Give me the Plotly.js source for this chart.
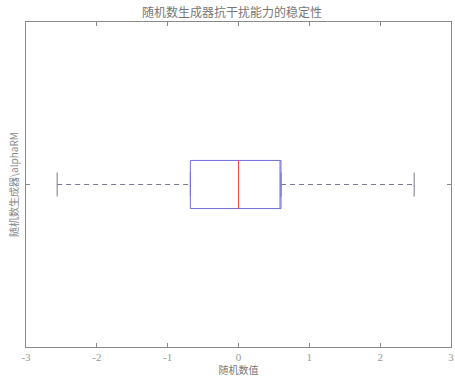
<!DOCTYPE html>
<html><head><meta charset="utf-8">
<script src="https://cdn.plot.ly/plotly-3.0.1.min.js"></script>
<style>html,body{margin:0;padding:0;background:#fff;}</style>
</head><body><div id="chart" style="width:455px;height:377px;"></div>
<script>
const groupPos = [1];
const lowerWhisker = [-2.56];
const q1 = [-0.68];
const medianVal = [0.0];
const q3 = [0.6];
const upperWhisker = [2.48];
const xTicks = [-3, -2, -1, 0, 1, 2, 3];
const xTickLabels = ['-3', '-2', '-1', '0', '1', '2', '3'];

const boxHalf = 0.074;
const capHalf = 0.037;
const p = groupPos[0];

const traces = [
  {type: 'box', orientation: 'h', y: groupPos, q1: q1, median: q3, q3: q3,
   lowerfence: q1, upperfence: q3, width: boxHalf * 2,
   fillcolor: 'rgba(0,0,0,0)', line: {color: '#7070d8', width: 1},
   hoverinfo: 'skip', showlegend: false},
  {type: 'scatter', mode: 'lines', x: [medianVal[0], medianVal[0]], y: [p - boxHalf, p + boxHalf],
   line: {color: '#f04848', width: 1}, showlegend: false, hoverinfo: 'skip'},
  {type: 'scatter', mode: 'lines', x: [lowerWhisker[0], q1[0]], y: [p, p],
   line: {color: '#7a7a9a', width: 1, dash: '5px,4px'}, showlegend: false, hoverinfo: 'skip'},
  {type: 'scatter', mode: 'lines', x: [q3[0], upperWhisker[0]], y: [p, p],
   line: {color: '#7a7a9a', width: 1, dash: '5px,4px'}, showlegend: false, hoverinfo: 'skip'},
  {type: 'scatter', mode: 'lines', x: [lowerWhisker[0], lowerWhisker[0]], y: [p - capHalf, p + capHalf],
   line: {color: '#7a7a8a', width: 1}, showlegend: false, hoverinfo: 'skip'},
  {type: 'scatter', mode: 'lines', x: [upperWhisker[0], upperWhisker[0]], y: [p - capHalf, p + capHalf],
   line: {color: '#7a7a8a', width: 1}, showlegend: false, hoverinfo: 'skip'}
];

const layout = {
  width: 455, height: 377,
  margin: {l: 26, r: 4, t: 22, b: 30},
  paper_bgcolor: '#fff', plot_bgcolor: '#fff',
  showlegend: false,
  title: {text: '随机数生成器抗干扰能力的稳定性', x: 0.51, xanchor: 'center', y: 0.978, yanchor: 'top',
          font: {family: 'Noto Sans CJK SC', size: 12, color: '#777'}},
  xaxis: {range: [-3, 3], tickvals: xTicks, ticktext: xTickLabels,
          showgrid: false, zeroline: false, showline: true, linecolor: '#8a8a8a', linewidth: 1,
          mirror: 'allticks', ticks: 'inside', ticklen: 4, tickcolor: '#8a8a8a',
          tickfont: {family: 'Liberation Serif', size: 11, color: '#999'},
          title: {text: '随机数值', font: {family: 'Noto Sans CJK SC', size: 10, color: '#777'}, standoff: 6}},
  yaxis: {range: [0.5, 1.5], tickvals: groupPos, ticktext: [''],
          showgrid: false, zeroline: false, showline: true, linecolor: '#8a8a8a', linewidth: 1,
          mirror: 'allticks', ticks: 'inside', ticklen: 4, tickcolor: '#8a8a8a',
          title: {text: '随机数生成器\\alphaRM', font: {family: 'Noto Sans CJK SC', size: 10, color: '#888'}, standoff: 2}}
};

Plotly.newPlot('chart', traces, layout, {displayModeBar: false, staticPlot: true});
</script></body></html>
